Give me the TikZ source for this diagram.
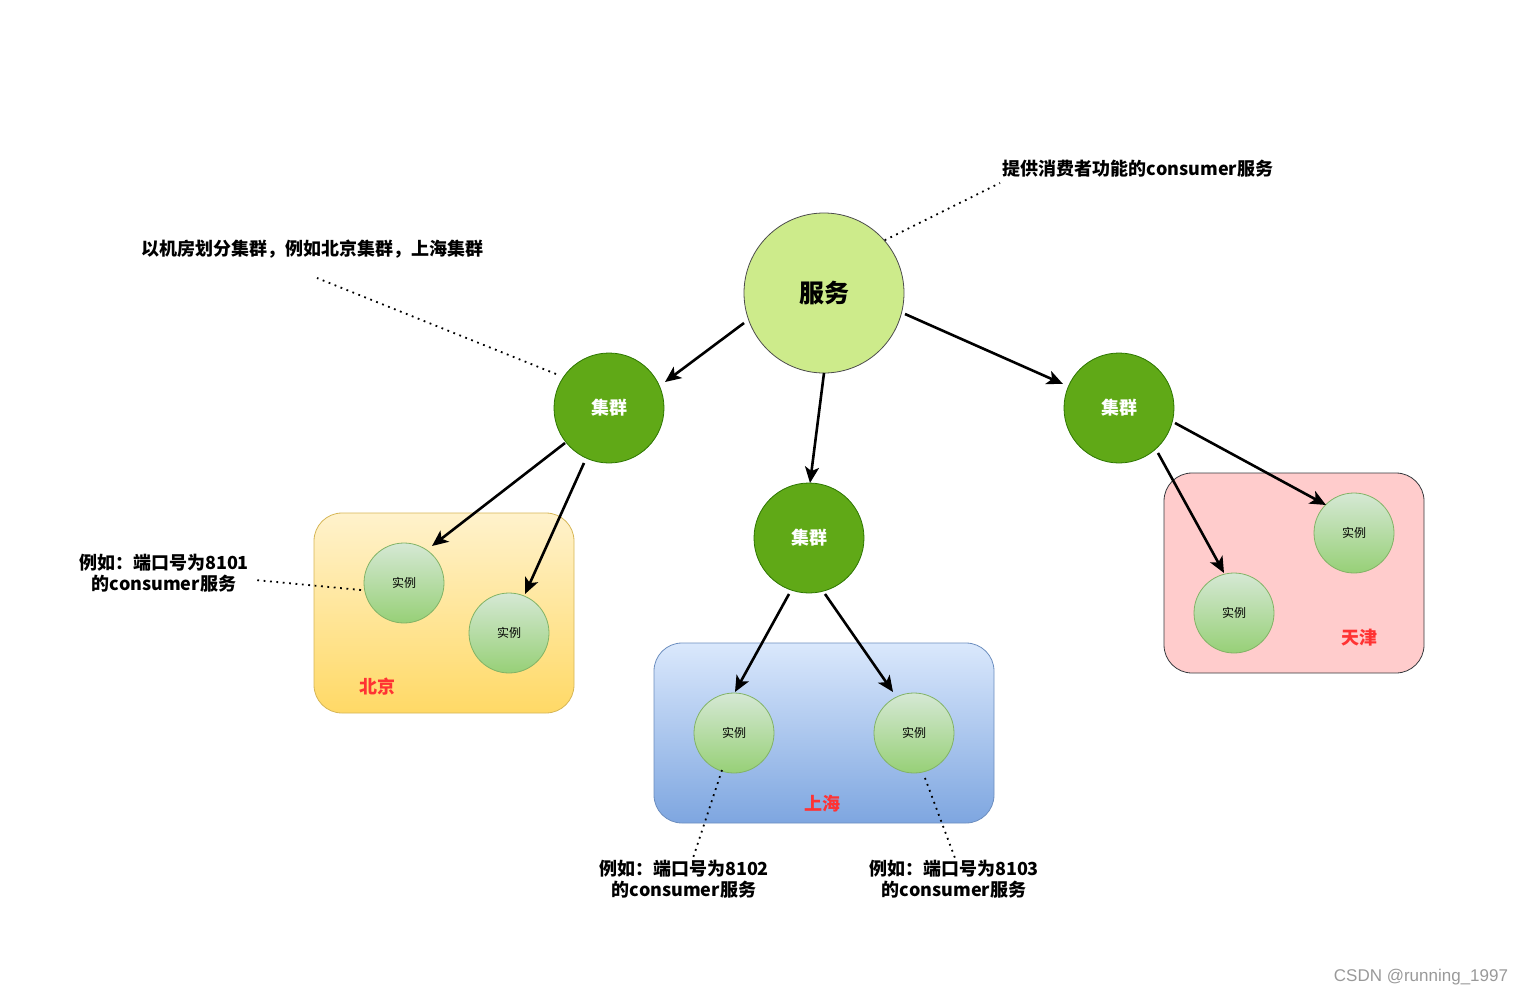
\documentclass[tikz,border=0pt]{standalone}
\usepackage{fontspec}
\setmainfont{Noto Sans CJK SC}
\newfontfamily\wmfont{Liberation Sans}
\usetikzlibrary{arrows.meta,calc}
\definecolor{svcfill}{HTML}{CDEB8B}
\definecolor{clfill}{HTML}{60A917}
\definecolor{cldraw}{HTML}{2D7600}
\definecolor{insttop}{HTML}{D5E8D4}
\definecolor{instbot}{HTML}{97D077}
\definecolor{instdraw}{HTML}{82B366}
\definecolor{bjtop}{HTML}{FFF2CC}
\definecolor{bjbot}{HTML}{FFD966}
\definecolor{bjdraw}{HTML}{D6B656}
\definecolor{shtop}{HTML}{DAE8FC}
\definecolor{shbot}{HTML}{7EA6E0}
\definecolor{shdraw}{HTML}{6C8EBF}
\definecolor{tjfill}{HTML}{FFCCCC}
\definecolor{tjdraw}{HTML}{36393D}
\definecolor{regred}{HTML}{FF3333}
\tikzset{
  svc/.style={circle, draw=black!70, fill=svcfill, minimum size=160pt, inner sep=0pt, line width=0.8pt, font=\fontsize{25}{30}\selectfont\bfseries},
  cluster/.style={circle, draw=cldraw, fill=clfill, minimum size=110pt, inner sep=0pt, line width=0.8pt, text=white, font=\fontsize{18}{22}\selectfont\bfseries},
  inst/.style={circle, draw=instdraw, top color=insttop, bottom color=instbot, minimum size=80pt, inner sep=0pt, line width=0.8pt, font=\fontsize{12}{14}\selectfont},
  region/.style={rounded corners=28pt, line width=0.8pt, inner sep=0pt},
  reglabel/.style={text=regred, font=\fontsize{18}{22}\selectfont\bfseries},
  note/.style={align=center, font=\fontsize{18}{21}\selectfont\bfseries},
  conn/.style={line width=2.6pt, -{Stealth[length=16pt,width=14pt,inset=4pt]}},
  dotline/.style={line width=1.8pt, dash pattern=on 1.8pt off 4.6pt}
}
\begin{document}
\begin{tikzpicture}[x=1pt,y=-1pt]
\useasboundingbox (0,0) rectangle (1524,996);
% regions
\node[region, draw=bjdraw, top color=bjtop, bottom color=bjbot, minimum width=260pt, minimum height=200pt] (bj) at (444,613) {};
\node[region, draw=shdraw, top color=shtop, bottom color=shbot, minimum width=340pt, minimum height=180pt] (sh) at (824,733) {};
\node[region, draw=tjdraw, fill=tjfill, minimum width=260pt, minimum height=200pt] (tj) at (1294,573) {};
\node[reglabel] (bjl) at (377,687) {北京};
\node[reglabel] (shl) at (822,804) {上海};
\node[reglabel] (tjl) at (1359,638) {天津};
% main nodes
\node[svc] (fw) at (824,293) {服务};
\node[cluster] (c1) at (609,408) {集群};
\node[cluster] (c2) at (809,538) {集群};
\node[cluster] (c3) at (1119,408) {集群};
\node[inst] (b1) at (404,583) {实例};
\node[inst] (b2) at (509,633) {实例};
\node[inst] (s1) at (734,733) {实例};
\node[inst] (s2) at (914,733) {实例};
\node[inst] (t1) at (1354,533) {实例};
\node[inst] (t2) at (1234,613) {实例};
% arrows
\draw[conn] ($(fw)+(-80,30)$) -- ($(c1)+(56,-26)$);
\draw[conn] ($(fw)+(0,80)$) -- ($(c2)+(1,-55)$);
\draw[conn] ($(fw)+(81,21)$) -- ($(c3)+(-56,-24)$);
\draw[conn] ($(c1)+(-44,35)$) -- ($(b1)+(28,-37)$);
\draw[conn] ($(c1)+(-25,55)$) -- ($(b2)+(16,-39)$);
\draw[conn] ($(c2)+(-20,56)$) -- ($(s1)+(1,-41)$);
\draw[conn] ($(c2)+(16,56)$) -- ($(s2)+(-21,-41)$);
\draw[conn] ($(c3)+(56,15)$) -- ($(t1)+(-28,-28)$);
\draw[conn] ($(c3)+(39,45)$) -- ($(t2)+(-10,-40)$);
% notes
\node[note] (n1) at (1138,169) {提供消费者功能的consumer服务};
\node[note] (n2) at (312,249) {以机房划分集群，例如北京集群，上海集群};
\node[note] (n3) at (164,573) {例如：端口号为8101\\的consumer服务};
\node[note] (n4) at (684,879) {例如：端口号为8102\\的consumer服务};
\node[note] (n5) at (954,879) {例如：端口号为8103\\的consumer服务};
\coordinate (e1) at (1000,183);
\coordinate (e2) at (317,278);
\coordinate (e3) at (255,580);
\coordinate (e4) at (693,858);
\coordinate (e5) at (955,858);
\coordinate (f2) at (556,374);
\coordinate (f3) at (361,590);
\draw[dotline] (fw.41) -- (e1);
\draw[dotline] (f2) -- (e2);
\draw[dotline] (f3) -- (e3);
\draw[dotline] ($(s1)+(-12,37)$) -- (e4);
\draw[dotline] ($(s2)+(11,45)$) -- (e5);
% watermark
\node[text=black!40, font=\wmfont\fontsize{17}{20}\selectfont] (wm) at (1421,977) {CSDN @running\_1997};
\end{tikzpicture}
\end{document}
